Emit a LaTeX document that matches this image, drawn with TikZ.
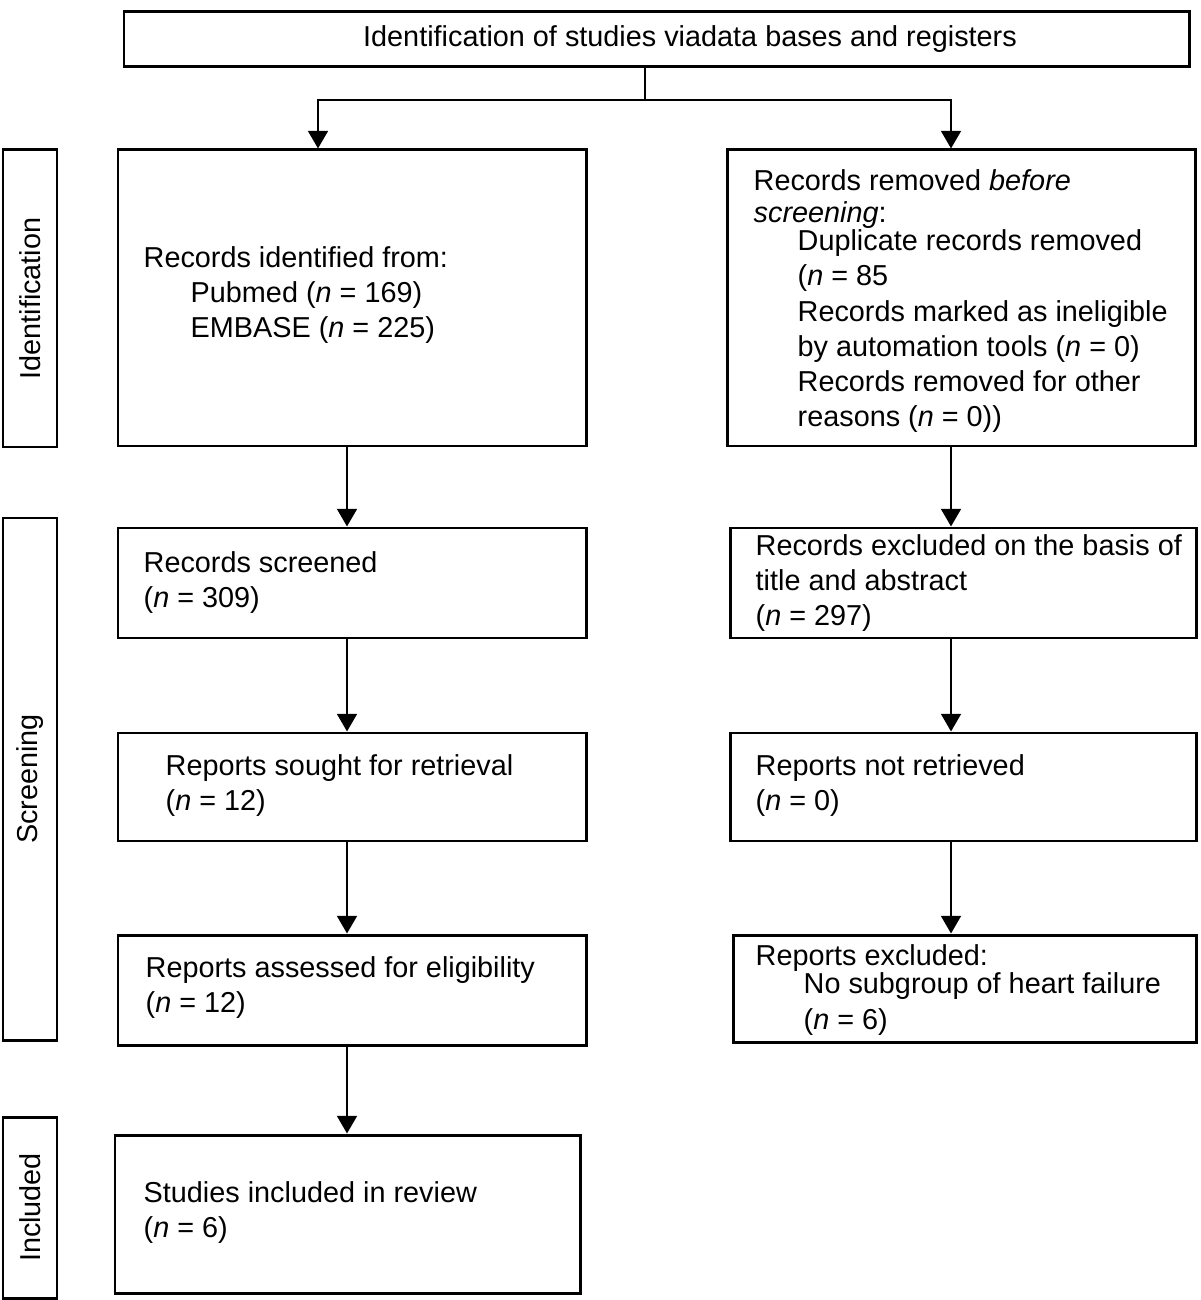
\documentclass[tikz,border=0pt]{standalone}
\usepackage{fontspec}
\setmainfont{Liberation Sans}
\usetikzlibrary{arrows.meta}
\tikzset{
  box/.style={draw, line width=0.85pt, inner sep=0pt},
  side/.style={draw, line width=0.85pt, inner sep=0pt, rotate=90, minimum height=0.54cm},
  txt/.style={anchor=west, align=left, inner sep=0pt},
  arr/.style={line width=0.7pt, -{Triangle[width=5.6pt,length=5pt]}},
}
\begin{document}
\begin{tikzpicture}[font=\fontsize{8.2}{10}\selectfont]
  \useasboundingbox (0, 0) rectangle (12, -13);
  % top
  \node[box, minimum width=10.65cm, minimum height=0.55cm] (top) at (6.565, -0.395){\hspace*{0.67cm}Identification of studies viadata bases and registers};

  % phases
  \node[side, minimum width=2.97cm] (ident) at (0.30, -2.985){Identification};
  \node[side, minimum width=5.22cm] (screen) at (0.30, -7.79){Screening};
  \node[side, minimum width=1.81cm] (incl) at (0.30, -12.075){Included};

  % left column
  \node[box, minimum width=4.68cm, minimum height=2.96cm] (recs) at (3.52, -2.98){};
  \node[txt] (recs-t) at (1.43, -2.95){Records identified from:\\\hspace*{0.47cm}Pubmed (\textit{n} = 169)\\\hspace*{0.47cm}EMBASE (\textit{n} = 225)};
  \node[box, minimum width=4.68cm, minimum height=1.10cm] (screened) at (3.52, -5.83){};
  \node[txt] (screened-t) at (1.43, -5.825){Records screened\\(\textit{n} = 309)};
  \node[box, minimum width=4.68cm, minimum height=1.08cm] (sought) at (3.52, -7.87){};
  \node[txt] (sought-t) at (1.65, -7.855){Reports sought for retrieval\\(\textit{n} = 12)};
  \node[box, minimum width=4.68cm, minimum height=1.10cm] (assessed) at (3.52, -9.90){};
  \node[txt] (assessed-t) at (1.45, -9.875){Reports assessed for eligibility\\(\textit{n} = 12)};
  \node[box, minimum width=4.65cm, minimum height=1.58cm] (included) at (3.475, -12.14){};
  \node[txt] (included-t) at (1.43, -12.125){Studies included in review\\(\textit{n} = 6)};

  % right column
  \node[box, minimum width=4.68cm, minimum height=2.96cm] (removed) at (9.61, -2.98){};
  \node[txt] (removed-t) at (7.53, -3.01){Records removed \textit{before}\\[-0.03cm]\textit{screening}:\\[-0.07cm]\hspace*{0.44cm}Duplicate records removed\\\hspace*{0.44cm}(\textit{n} = 85\\\hspace*{0.44cm}Records marked as ineligible\\\hspace*{0.44cm}by automation tools (\textit{n} = 0)\\\hspace*{0.44cm}Records removed for other\\\hspace*{0.44cm}reasons (\textit{n} = 0))};
  \node[box, minimum width=4.66cm, minimum height=1.10cm] (excluded) at (9.63, -5.83){};
  \node[txt] (excluded-t) at (7.55, -5.83){Records excluded on the basis of\\title and abstract\\(\textit{n} = 297)};
  \node[box, minimum width=4.66cm, minimum height=1.08cm] (notretr) at (9.63, -7.87){};
  \node[txt] (notretr-t) at (7.55, -7.855){Reports not retrieved\\(\textit{n} = 0)};
  \node[box, minimum width=4.63cm, minimum height=1.07cm] (repexcl) at (9.645, -9.885){};
  \node[txt] (repexcl-t) at (7.55, -9.90){Reports excluded:\\[-0.07cm]\hspace*{0.48cm}No subgroup of heart failure\\\hspace*{0.48cm}(\textit{n} = 6)};

  % connectors
  \coordinate (split) at (6.45, -1.00);
  \coordinate (lin) at (3.18, 0);
  \coordinate (lcol) at (3.47, 0);
  \coordinate (rcol) at (9.51, 0);
  \draw[line width=0.7pt] (split |- top.south) to (split);
  \draw[arr] (split) -| (lin |- recs.north);
  \draw[arr] (split) -| (rcol |- removed.north);

  \draw[arr] (recs.south -| lcol) to (screened.north -| lcol);
  \draw[arr] (screened.south -| lcol) to (sought.north -| lcol);
  \draw[arr] (sought.south -| lcol) to (assessed.north -| lcol);
  \draw[arr] (assessed.south -| lcol) to (included.north -| lcol);

  \draw[arr] (removed.south -| rcol) to (excluded.north -| rcol);
  \draw[arr] (excluded.south -| rcol) to (notretr.north -| rcol);
  \draw[arr] (notretr.south -| rcol) to (repexcl.north -| rcol);
\end{tikzpicture}
\end{document}
